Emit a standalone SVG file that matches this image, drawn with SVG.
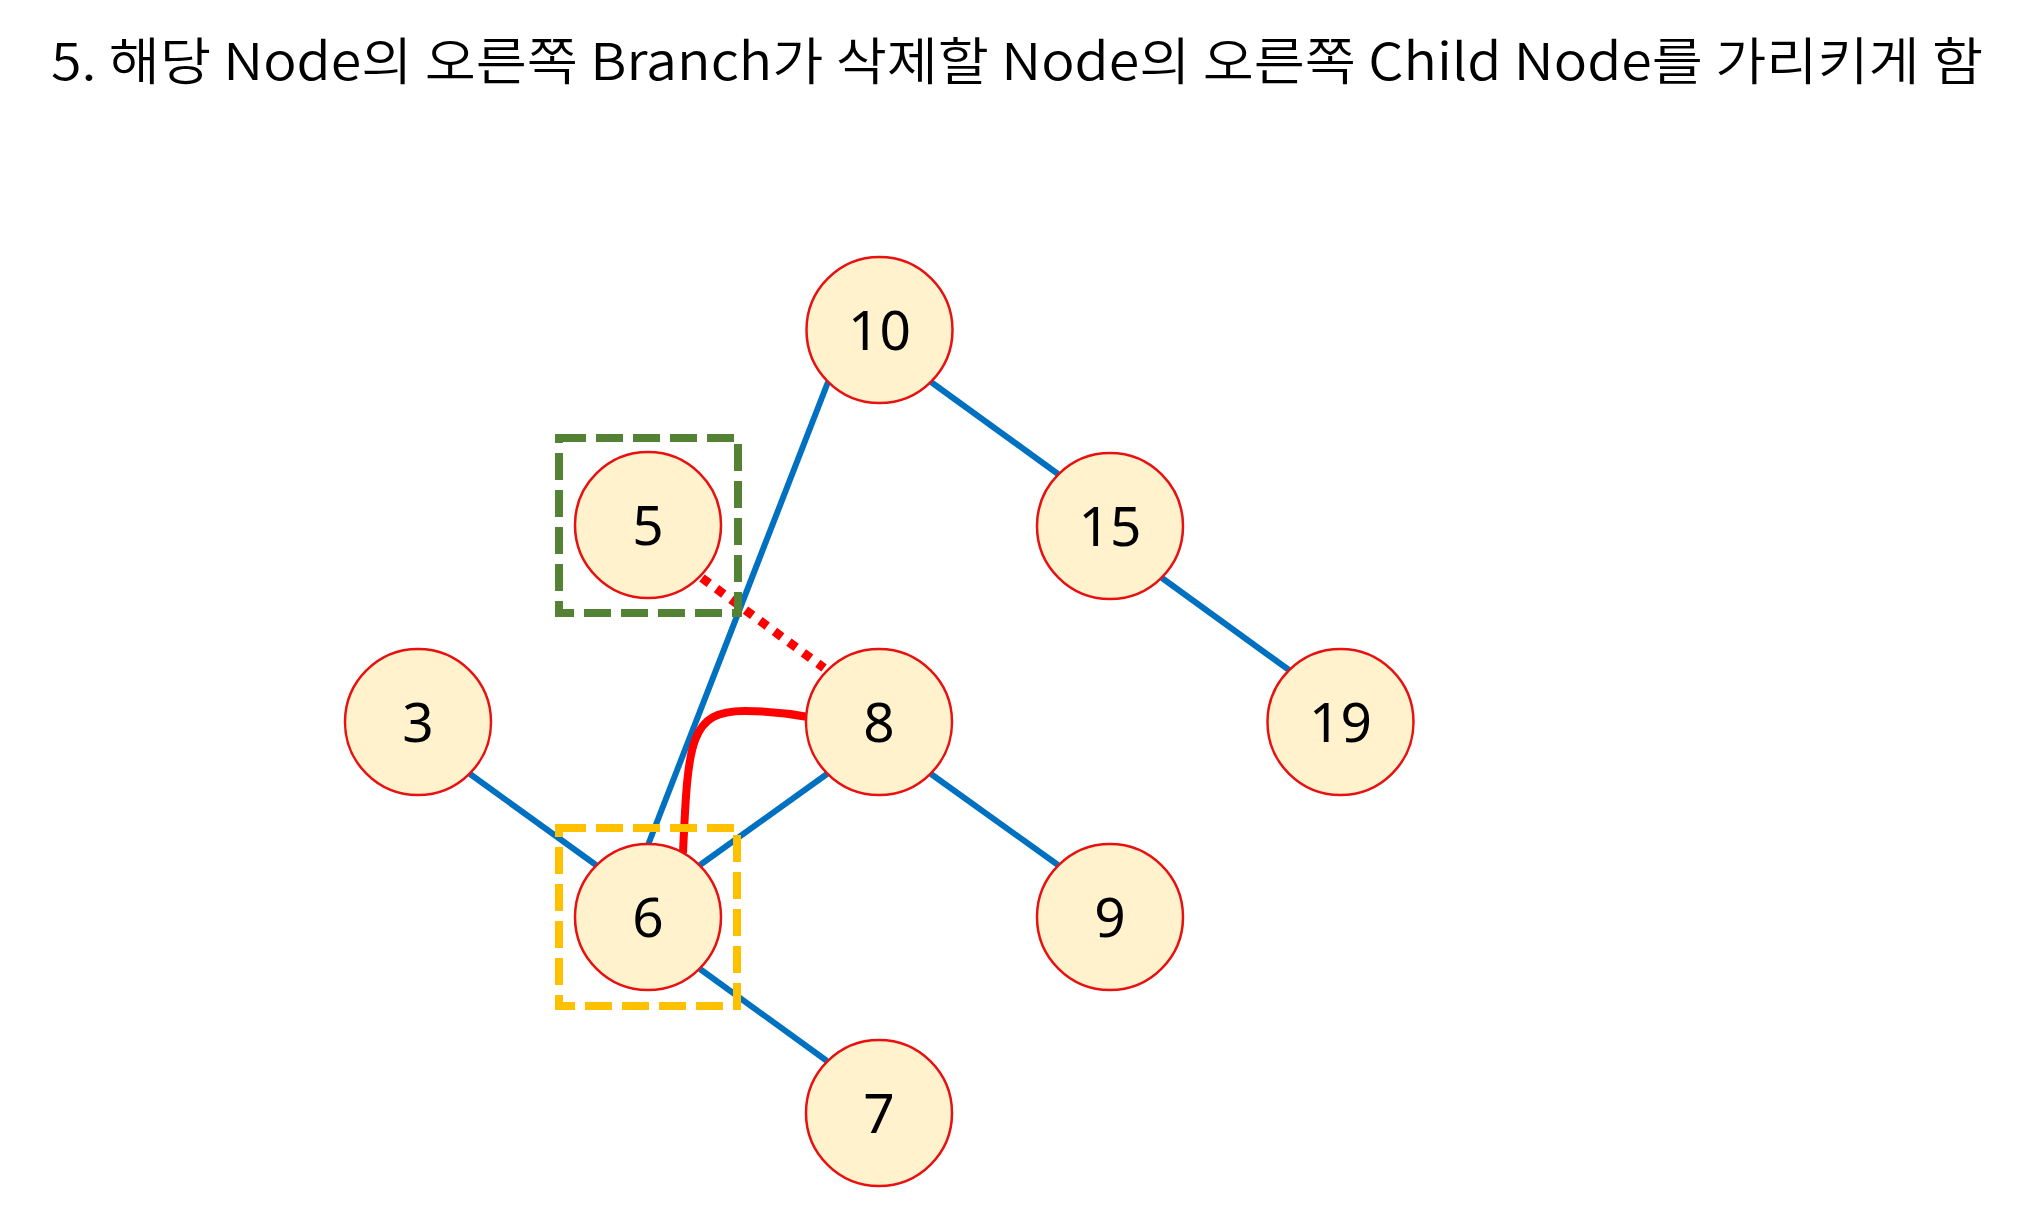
<svg xmlns="http://www.w3.org/2000/svg" width="2019" height="1226" viewBox="0 0 2019 1226">
<style>
.node circle{fill:#FFF2CC;stroke:#E81010;stroke-width:2.5}
.node text{font-family:"Noto Sans","Noto Sans CJK KR",sans-serif;font-size:55px;text-anchor:middle;fill:#000}
.edge{stroke:#0070C0;stroke-width:6;fill:none}
.title{font-family:"Noto Sans CJK KR","Noto Sans",sans-serif;font-size:51px;font-weight:350;fill:#000}
</style>
<rect width="2019" height="1226" fill="#fff"/>
<text class="title" x="51" y="80" textLength="1932" lengthAdjust="spacingAndGlyphs">5. 해당 Node의 오른쪽 Branch가 삭제할 Node의 오른쪽 Child Node를 가리키게 함</text>
<g id="connectors">
<line class="edge" x1="828" y1="382" x2="648" y2="845"/>
<line class="edge" x1="931" y1="382" x2="1058" y2="474"/>
<line class="edge" x1="1162" y1="578" x2="1289" y2="670"/>
<line class="edge" x1="470" y1="774" x2="596" y2="865"/>
<line class="edge" x1="827" y1="774" x2="700" y2="865"/>
<line class="edge" x1="931" y1="774" x2="1058" y2="865"/>
<line class="edge" x1="700" y1="969" x2="827" y2="1061"/>
<line x1="702" y1="578" x2="824" y2="668" stroke="#FF0000" stroke-width="9" stroke-dasharray="9 9"/>
<path d="M683 853 C688 740 690 711 745 711 C775 711 792 714 808 717" stroke="#FF0000" stroke-width="8" fill="none"/>
</g>
<g id="node-10" class="node"><circle cx="879.5" cy="330" r="73"/><text x="879.5" y="350">10</text></g>
<g id="node-15" class="node"><circle cx="1110" cy="526" r="73"/><text x="1110" y="546">15</text></g>
<g id="node-19" class="node"><circle cx="1340.5" cy="722" r="73"/><text x="1340.5" y="742">19</text></g>
<g id="node-5" class="node"><circle cx="648" cy="525" r="73"/><text x="648" y="545">5</text></g>
<g id="node-8" class="node"><circle cx="879" cy="722" r="73"/><text x="879" y="742">8</text></g>
<g id="node-3" class="node"><circle cx="418" cy="722" r="73"/><text x="418" y="742">3</text></g>
<g id="node-6" class="node"><circle cx="648" cy="917" r="73"/><text x="648" y="937">6</text></g>
<g id="node-9" class="node"><circle cx="1110" cy="917" r="73"/><text x="1110" y="937">9</text></g>
<g id="node-7" class="node"><circle cx="879" cy="1113" r="73"/><text x="879" y="1133">7</text></g>
<g id="highlight-5"><rect x="559" y="438" width="179" height="175" fill="none" stroke="#548235" stroke-width="8" stroke-dasharray="27 10"/></g>
<g id="highlight-6"><rect x="559" y="828" width="178" height="178" fill="none" stroke="#FFC000" stroke-width="8" stroke-dasharray="27 10"/></g>
</svg>
